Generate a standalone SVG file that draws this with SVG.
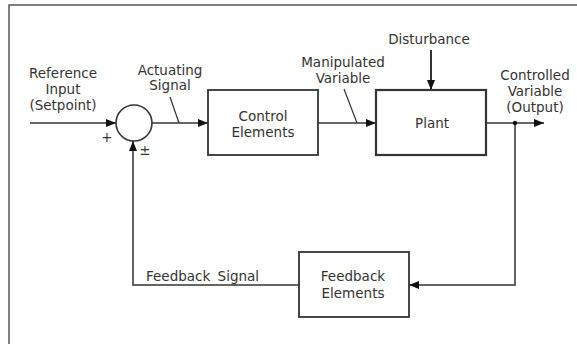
<svg xmlns="http://www.w3.org/2000/svg" width="577" height="344" viewBox="0 0 577 344">
<style>
.t{font-family:"DejaVu Sans","Liberation Sans",sans-serif;font-size:13.5px;fill:#333;text-anchor:middle}
.tl{text-anchor:start}
.box{fill:#fff;stroke:#333;stroke-width:1.8}
.ln{fill:none;stroke:#333;stroke-width:1.5}
.frame{fill:none;stroke:#555;stroke-width:1.5}
</style>
<defs>
<marker id="ah" viewBox="0 0 10 8" refX="10" refY="4" markerWidth="10" markerHeight="8" markerUnits="userSpaceOnUse" orient="auto">
<path d="M0,0 L10,4 L0,8 Z" fill="#111"/>
</marker>
</defs>
<rect width="577" height="344" fill="#fff"/>
<path class="frame" d="M9,344 V5 H577"/>

<g id="connectors">
<line class="ln" x1="30" y1="123" x2="116" y2="123" marker-end="url(#ah)"/>
<line class="ln" x1="152" y1="123" x2="208" y2="123" marker-end="url(#ah)"/>
<line class="ln" x1="318" y1="123" x2="376" y2="123" marker-end="url(#ah)"/>
<line class="ln" x1="486" y1="123" x2="544" y2="123" marker-end="url(#ah)"/>
<line class="ln" x1="431" y1="50" x2="431" y2="90" marker-end="url(#ah)" style="stroke-width:2"/>
<polyline class="ln" points="515,123 515,285 409,285" marker-end="url(#ah)"/>
<polyline class="ln" points="299,285 133,285 133,141" marker-end="url(#ah)"/>
<circle cx="515" cy="123" r="2.2" fill="#111"/>
<line class="ln" x1="170" y1="97" x2="179" y2="123" style="stroke-width:1.2"/>
<line class="ln" x1="344" y1="89" x2="357" y2="123" style="stroke-width:1.2"/>
</g>

<g id="sum">
<circle cx="134" cy="123" r="18" fill="#fff" stroke="#333" stroke-width="1.6"/>
<text class="t" x="107" y="142">+</text>
<text class="t" x="145" y="155">±</text>
</g>

<g id="control">
<rect class="box" x="208" y="90" width="110" height="65"/>
<text class="t" x="263" y="121">Control</text>
<text class="t" x="263" y="137">Elements</text>
</g>

<g id="plant">
<rect class="box" x="376" y="90" width="110" height="65" style="stroke-width:2.2"/>
<text class="t" x="432" y="128">Plant</text>
</g>

<g id="feedback">
<rect class="box" x="299" y="252" width="110" height="65"/>
<text class="t" x="353" y="281">Feedback</text>
<text class="t" x="353" y="298">Elements</text>
</g>

<g id="labels">
<text class="t" x="63" y="78">Reference</text>
<text class="t" x="63" y="94">Input</text>
<text class="t" x="63" y="110">(Setpoint)</text>
<text class="t" x="170" y="75">Actuating</text>
<text class="t" x="170" y="90">Signal</text>
<text class="t" x="343" y="67">Manipulated</text>
<text class="t" x="343" y="83">Variable</text>
<text class="t" x="429" y="44">Disturbance</text>
<text class="t" x="535" y="80">Controlled</text>
<text class="t" x="535" y="96">Variable</text>
<text class="t" x="535" y="112">(Output)</text>
<text class="t tl" x="146" y="281" word-spacing="3">Feedback Signal</text>
</g>
</svg>
